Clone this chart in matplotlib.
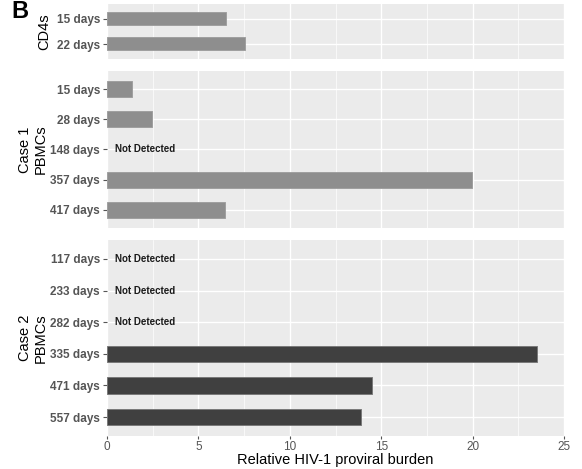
import matplotlib
matplotlib.use("Agg")
from matplotlib import pyplot as plt

plt.rcParams['font.family'] = ['Liberation Sans', 'DejaVu Sans']

# data, top to bottom within each panel
cd4_days = ['15 days', '22 days']
cd4_values = [6.53, 7.55]

case1_days = ['15 days', '28 days', '148 days', '357 days', '417 days']
case1_values = [1.35, 2.44, None, 19.95, 6.45]

case2_days = ['117 days', '233 days', '282 days', '335 days', '471 days', '557 days']
case2_values = [None, None, None, 23.5, 14.5, 13.9]

panel_titles = ['CD4s', 'Case 1\nPBMCs', 'Case 2\nPBMCs']
x_ticks = [0, 5, 10, 15, 20, 25]

fig = plt.figure(figsize=(5.82, 4.69), dpi=100)
W, H = 582, 469


def px_axes(left, top, right, bottom):
    return fig.add_axes([left / W, 1 - bottom / H, (right - left) / W, (bottom - top) / H])


panels = [
    (cd4_days, cd4_values, '#8e8e8e', '#a0a0a0', (4, 59)),
    (case1_days, case1_values, '#8e8e8e', '#a0a0a0', (71, 228)),
    (case2_days, case2_values, '#404040', '#7a7a7a', (240, 436)),
]
strip_x = [44, 33, 33]

for i, (days, values, fc, ec, (top, bottom)) in enumerate(panels):
    ax = px_axes(107, top, 564, bottom)
    ax.set_facecolor('#ebebeb')
    n = len(days)
    pos = list(range(n))
    for p, v in zip(pos, values):
        if v is None:
            ax.text(2.1, p, 'Not Detected', ha='center', va='center',
                    fontsize=7, fontweight='bold', color='#1a1a1a')
        else:
            ax.barh(p, v, height=0.52, color=fc, edgecolor=ec, linewidth=0.7, zorder=3)
    ax.set_xlim(0, 25)
    ax.set_ylim(n - 0.4, -0.6)
    ax.set_yticks(pos)
    ax.set_yticklabels(days, fontsize=8.5, fontweight='bold', color='#555555')
    ax.set_xticks(x_ticks)
    ax.set_xticks([2.5, 7.5, 12.5, 17.5, 22.5], minor=True)
    ax.set_yticks([], minor=True)
    ax.grid(which='major', color='white', linewidth=1.0, zorder=0)
    ax.grid(which='minor', axis='x', color='white', linewidth=0.5, zorder=0)
    ax.set_axisbelow(True)
    for s in ax.spines.values():
        s.set_visible(False)
    ax.tick_params(axis='y', length=3, width=0.8, color='#555555', pad=2)
    ax.tick_params(which='minor', length=0)
    if i < 2:
        ax.tick_params(axis='x', length=0, labelbottom=False)
    else:
        ax.tick_params(axis='x', length=2.5, width=0.8, color='#555555', pad=1,
                       labelsize=8.5, labelcolor='#555555')
        ax.set_xlabel('Relative HIV-1 proviral burden', fontsize=10.5, color='black', labelpad=0)
    fig.text(strip_x[i] / W, 1 - (top + bottom) / 2 / H, panel_titles[i], rotation=90,
             ha='center', va='center', fontsize=10.5, linespacing=1.1)

fig.text(11 / W, 1 - 0 / H, 'B', fontsize=17, fontweight='bold', ha='left', va='top')

fig.savefig('out.png', dpi=100)
